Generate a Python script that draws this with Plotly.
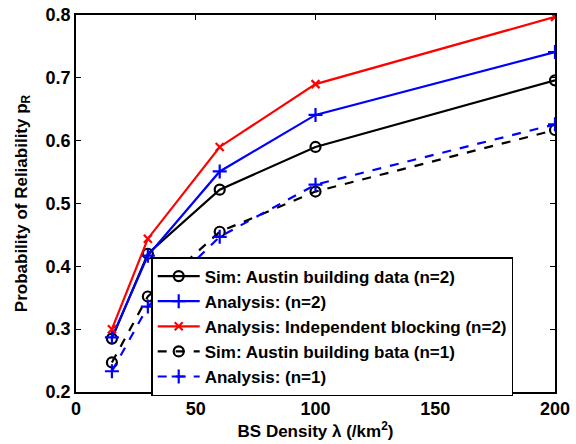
import plotly.graph_objects as go

density = [15, 30, 60, 100, 200]
sim_n2 = [0.285, 0.420, 0.522, 0.590, 0.696]
ana_n2 = [0.287, 0.417, 0.551, 0.641, 0.741]
ana_indep_n2 = [0.300, 0.444, 0.590, 0.690, 0.797]
sim_n1 = [0.247, 0.352, 0.455, 0.519, 0.617]
ana_n1 = [0.233, 0.336, 0.447, 0.530, 0.626]

x_ticks = [0, 50, 100, 150, 200]
y_ticks = [0.2, 0.3, 0.4, 0.5, 0.6, 0.7, 0.8]

FONT = "Liberation Sans, Arial, sans-serif"

fig = go.Figure()
series = [
    ("Sim: Austin building data (n=2)", sim_n2, "black", "solid", "circle-open", 10),
    ("Analysis: (n=2)", ana_n2, "blue", "solid", "cross-thin-open", 10),
    ("Analysis: Independent blocking (n=2)", ana_indep_n2, "red", "solid", "x-thin-open", 8),
    ("Sim: Austin building bata (n=1)", sim_n1, "black", "dash", "circle-open", 10),
    ("Analysis: (n=1)", ana_n1, "blue", "dash", "cross-thin-open", 10),
]
for name, ys, color, dash, sym, size in series:
    fig.add_trace(go.Scatter(
        x=density, y=ys, name=name, mode="lines+markers",
        line=dict(color=color, width=2.2, dash=dash),
        marker=dict(symbol=sym, size=size, color=color, line=dict(color=color, width=2.2)),
    ))

axis_common = dict(
    showgrid=False, zeroline=False, showline=True, linecolor="black", linewidth=1.5,
    mirror="ticks", ticks="inside", ticklen=5, tickcolor="black", automargin=False,
    tickfont=dict(family=FONT, size=18, color="black", weight="bold"),
)
fig.update_xaxes(range=[0, 200], tickvals=x_ticks,
                 title=dict(text="BS Density λ (/km<sup>2</sup>)", standoff=2,
                            font=dict(family=FONT, size=17, color="black", weight="bold")),
                 **axis_common)
fig.update_yaxes(range=[0.2, 0.8], tickvals=y_ticks, tickformat=".1f",
                 title=dict(text="Probability of Reliability p<sub>R</sub>", standoff=14,
                            font=dict(family=FONT, size=17, color="black", weight="bold")),
                 **axis_common)

fig.update_layout(
    width=576, height=444,
    margin=dict(l=76, r=21, t=15, b=52, autoexpand=False),
    paper_bgcolor="white", plot_bgcolor="white",
    legend=dict(x=0.157, y=0.358, xanchor="left", yanchor="top",
                bgcolor="white", bordercolor="black", borderwidth=1.5,
                font=dict(family=FONT, size=17, color="black", weight="bold"),
                tracegroupgap=0, itemwidth=42),
    showlegend=True,
)

fig.write_html("out.html", config={"displayModeBar": False},
               post_script="document.body.style.margin='0';document.body.style.padding='0';")
